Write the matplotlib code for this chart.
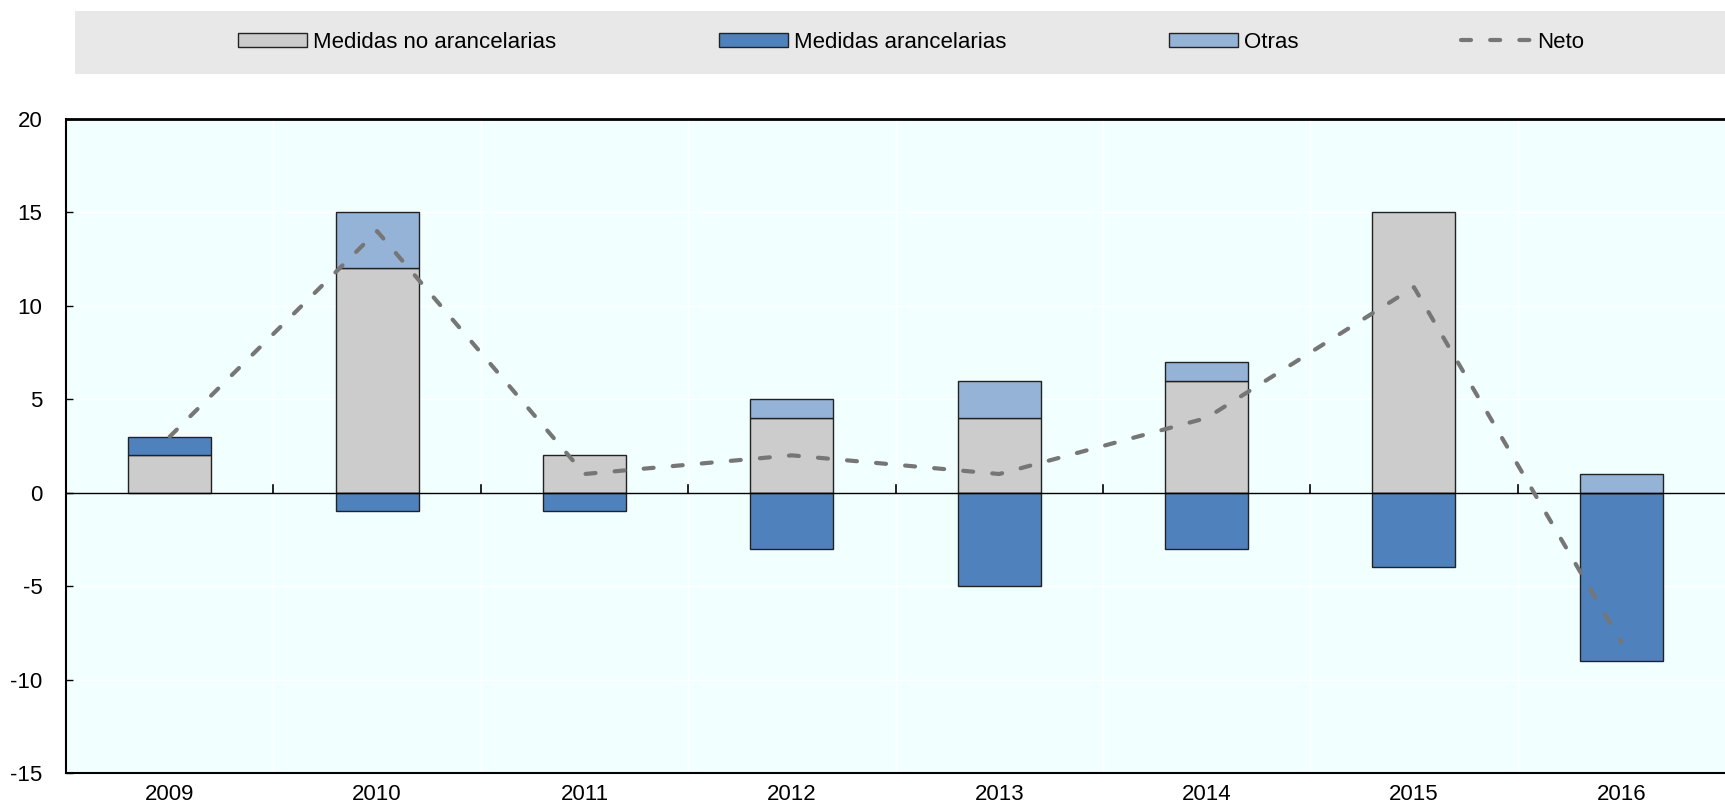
import matplotlib.pyplot as plt
import numpy as np
from matplotlib.patches import Rectangle, Patch
from matplotlib.lines import Line2D

plt.rcParams['font.family'] = ['Liberation Sans Narrow', 'Liberation Sans', 'DejaVu Sans']
plt.rcParams['font.size'] = 16
plt.rcParams['axes.unicode_minus'] = False

years = ['2009', '2010', '2011', '2012', '2013', '2014', '2015', '2016']
no_aran = [2, 12, 2, 4, 4, 6, 15, 0]      # Medidas no arancelarias
aran = [1, -1, -1, -3, -5, -3, -4, -9]    # Medidas arancelarias
otras = [0, 3, 0, 1, 2, 1, 0, 1]          # Otras
neto = [3, 14, 1, 2, 1, 4, 11, -8]        # Neto

c_gray = '#CCCCCC'
c_blue = '#4F81BD'
c_light = '#95B3D7'
c_line = '#767676'
edge = '#222222'
dash = (2.4, 4.6)

fig = plt.figure(figsize=(17.25, 8.11), dpi=100)
ax = fig.add_axes([66 / 1725, 1 - 773 / 811, 1 - 66 / 1725, (773 - 119) / 811])
ax.set_facecolor('#F2FFFF')

x = np.arange(len(years))
w = 0.4
pos_bottom = np.zeros(len(years))
neg_bottom = np.zeros(len(years))

series = [(no_aran, c_gray), (aran, c_blue), (otras, c_light)]
for vals, col in series:
    vals = np.array(vals, dtype=float)
    bottoms = np.where(vals >= 0, pos_bottom, neg_bottom)
    mask = vals != 0
    ax.bar(x[mask], vals[mask], w, bottom=bottoms[mask], color=col,
           edgecolor=edge, linewidth=1, zorder=3)
    pos_bottom += np.where(vals > 0, vals, 0)
    neg_bottom += np.where(vals < 0, vals, 0)

ax.plot(x, neto, color=c_line, lw=3, dashes=dash, dash_capstyle='round', zorder=5)

# grid
for yv in [-10, -5, 5, 10, 15]:
    ax.axhline(yv, color='white', lw=1, zorder=1)
for b in np.arange(len(years) - 1) + 0.5:
    ax.axvline(b, color='white', lw=1, zorder=1)
    ax.plot([b, b], [0, 0.4], color='black', lw=1.2, zorder=4)
ax.axhline(0, color='black', lw=1, zorder=4)

ax.set_xlim(-0.5, len(years) - 0.5)
ax.set_ylim(-15, 20)
ax.set_yticks(range(-15, 21, 5))
ax.set_xticks(x)
ax.set_xticklabels(years)
ax.tick_params(axis='y', direction='in', length=5, width=1, pad=17)
ax.tick_params(axis='x', length=0, pad=8)

ax.spines['right'].set_visible(False)
ax.spines['top'].set_linewidth(2)
ax.spines['left'].set_linewidth(1.5)
ax.spines['bottom'].set_linewidth(1.5)

# legend band
fig.patches.append(Rectangle((75 / 1725, 1 - 74 / 811), 1 - 75 / 1725, 63 / 811,
                             transform=fig.transFigure, facecolor='#E8E8E8',
                             edgecolor='none', zorder=0))
handles = [Patch(facecolor=c_gray, edgecolor=edge, label='Medidas no arancelarias'),
           Patch(facecolor=c_blue, edgecolor=edge, label='Medidas arancelarias'),
           Patch(facecolor=c_light, edgecolor=edge, label='Otras'),
           Line2D([], [], color=c_line, lw=3, dashes=dash, dash_capstyle='round', label='Neto')]
fig.legend(handles=handles, loc='center', bbox_to_anchor=(0.528, 1 - 42 / 811), ncol=4,
           frameon=False, handlelength=3.1, handleheight=0.6, handletextpad=0.3,
           columnspacing=7.3, fontsize=16)

fig.savefig('out.png', dpi=100)
